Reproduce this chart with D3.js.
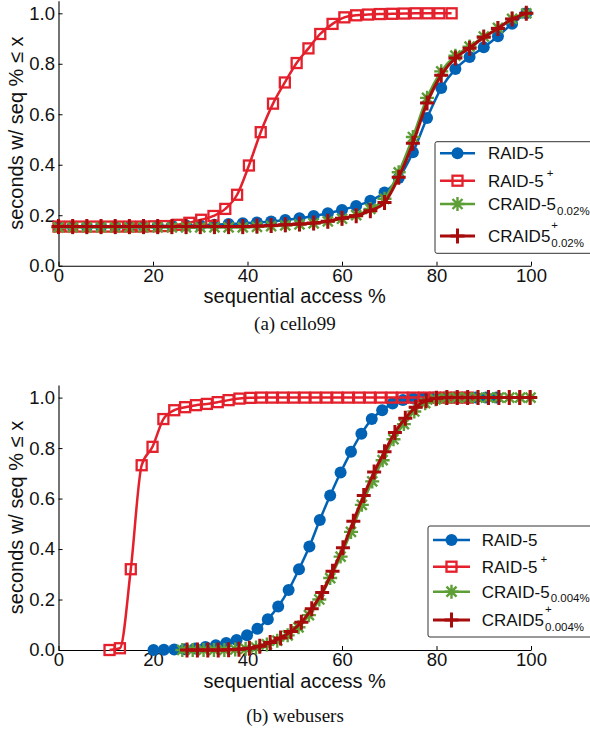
<!DOCTYPE html>
<html>
<head>
<meta charset="utf-8">
<script src="https://cdn.jsdelivr.net/npm/d3@7"></script>
<style>
  body { margin: 0; background: #fff; }
  svg { display: block; }
</style>
</head>
<body>
<svg id="chart" width="590" height="731"></svg>
<script>
// ---- data -------------------------------------------------------------

const X_TICKS = [0, 20, 40, 60, 80, 100];
const Y_TICKS = [0, 0.2, 0.4, 0.6, 0.8, 1.0];

const LEGEND_BASE = ['RAID-5', 'RAID-5', 'CRAID-5', 'CRAID5'];
const LEGEND_SUP = ['', '+', '', '+'];
const CELLO_SUB = ['', '', '0.02%', '0.02%'];
const WEB_SUB = ['', '', '0.004%', '0.004%'];

// (a) cello99
const celloX = [0, 3, 6, 9, 12, 15, 18, 21, 24, 27, 30, 33, 36, 39, 42, 45, 48,
  51, 54, 57, 60, 63, 66, 69, 72, 75, 78, 81, 84, 87, 90, 93, 96, 99];
const celloRaid5 = [0.155, 0.155, 0.155, 0.155, 0.155, 0.155, 0.156, 0.157, 0.158,
  0.159, 0.160, 0.162, 0.165, 0.168, 0.171, 0.175, 0.181, 0.188, 0.197, 0.208,
  0.221, 0.237, 0.257, 0.290, 0.347, 0.449, 0.585, 0.704, 0.779, 0.827, 0.865,
  0.909, 0.959, 1.0];
const celloSquareX = [0, 2.5, 5.0, 7.6, 10.1, 12.6, 15.1, 17.6, 20.2, 22.7, 25.2,
  27.7, 30.2, 32.8, 35.3, 37.8, 40.3, 42.8, 45.4, 47.9, 50.4, 52.9, 55.4, 58.0,
  60.5, 63.0, 65.5, 68.0, 70.6, 73.1, 75.6, 78.1, 80.6, 83.2];
const celloRaid5Plus = [0.155, 0.155, 0.155, 0.155, 0.155, 0.155, 0.155, 0.155,
  0.156, 0.157, 0.162, 0.170, 0.182, 0.197, 0.225, 0.281, 0.397, 0.529, 0.642,
  0.726, 0.803, 0.861, 0.918, 0.958, 0.984, 0.992, 0.995, 0.997, 0.998, 0.999,
  1.0, 1.0, 1.0, 1.0];
const celloCraid5 = [0.152, 0.152, 0.152, 0.152, 0.152, 0.152, 0.152, 0.152,
  0.152, 0.152, 0.152, 0.152, 0.152, 0.152, 0.154, 0.157, 0.160, 0.164, 0.168,
  0.176, 0.186, 0.200, 0.225, 0.265, 0.370, 0.510, 0.665, 0.770, 0.832, 0.868,
  0.908, 0.942, 0.978, 1.0];
const celloCraid5Plus = [0.155, 0.155, 0.155, 0.155, 0.155, 0.155, 0.155, 0.155,
  0.155, 0.155, 0.155, 0.155, 0.155, 0.155, 0.157, 0.159, 0.162, 0.165, 0.169,
  0.176, 0.188, 0.198, 0.218, 0.250, 0.350, 0.485, 0.645, 0.755, 0.823, 0.862,
  0.905, 0.940, 0.977, 1.0];

// (b) webusers
const webRaid5X = [20.1, 22.3, 24.5, 26.7, 28.9, 31.1, 33.3, 35.5, 37.7, 39.9, 42.1,
  44.3, 46.5, 48.7, 50.9, 53.1, 55.3, 57.5, 59.7, 61.9, 64.1, 66.3, 68.5, 70.7,
  72.9, 75.1, 77.3, 79.5, 81.7, 83.9, 86.1, 88.3, 90.5, 92.7];
const webRaid5 = [0.0, 0.001, 0.002, 0.003, 0.006, 0.012, 0.019, 0.028, 0.040,
  0.058, 0.084, 0.122, 0.172, 0.238, 0.320, 0.410, 0.515, 0.612, 0.703, 0.785,
  0.857, 0.915, 0.950, 0.977, 0.990, 0.996, 0.999, 1.0, 1.0, 1.0, 1.0, 1.0, 1.0, 1.0];
const webRaid5PlusX = [10.8, 13.0, 15.3, 17.6, 19.9, 22.2, 24.5, 26.8, 29.1, 31.4,
  33.7, 36.0, 38.3, 40.6, 42.9, 45.2, 47.5, 49.8, 52.1, 54.4, 56.7, 59.0, 61.3,
  63.6, 65.9, 68.2, 70.5, 72.8, 75.1, 77.4, 79.7, 82.0, 84.3, 86.6];
const webRaid5Plus = [0.0, 0.007, 0.320, 0.732, 0.805, 0.915, 0.950, 0.962, 0.970,
  0.975, 0.982, 0.990, 0.996, 0.999, 1.0, 1.0, 1.0, 1.0, 1.0, 1.0, 1.0, 1.0, 1.0,
  1.0, 1.0, 1.0, 1.0, 1.0, 1.0, 1.0, 1.0, 1.0, 1.0, 1.0];
const webCraid5X = [26.2, 28.4, 30.7, 32.9, 35.1, 37.4, 39.6, 41.8, 44.1, 46.3, 48.5,
  50.8, 53.0, 55.2, 57.5, 59.7, 61.9, 64.2, 66.4, 68.6, 70.9, 73.1, 75.3, 77.6,
  79.8, 82.0, 84.3, 86.5, 88.7, 91.0, 93.2, 95.4, 97.7, 99.9];
const webCraid5 = [0.0, 0.0, 0.0, 0.0, 0.0, 0.002, 0.005, 0.010, 0.022, 0.037,
  0.058, 0.090, 0.138, 0.200, 0.285, 0.370, 0.468, 0.575, 0.668, 0.752, 0.835,
  0.895, 0.945, 0.978, 0.993, 0.998, 1.0, 1.0, 1.0, 1.0, 1.0, 1.0, 1.0, 1.0];
const webCraid5PlusX = [27.2, 29.4, 31.6, 33.8, 36.0, 38.2, 40.4, 42.6, 44.8, 47.0,
  49.2, 51.4, 53.6, 55.8, 58.0, 60.2, 62.4, 64.6, 66.8, 69.0, 71.2, 73.4, 75.6,
  77.8, 80.0, 82.2, 84.4, 86.6, 88.8, 91.0, 93.2, 95.4, 97.6, 99.8];
const webCraid5Plus = [0.0, 0.0, 0.0, 0.0, 0.001, 0.003, 0.007, 0.015, 0.030,
  0.048, 0.073, 0.110, 0.163, 0.228, 0.312, 0.405, 0.510, 0.612, 0.705, 0.785,
  0.862, 0.918, 0.962, 0.988, 0.997, 1.0, 1.0, 1.0, 1.0, 1.0, 1.0, 1.0, 1.0, 1.0];

// ---- style ------------------------------------------------------------

const COLORS = ['#0062b4', '#e3202b', '#5d9f36', '#a70b0b'];
const MARKERS = ['circle', 'square', 'asterisk', 'plus'];
const LINE_WIDTHS = [2.5, 2.5, 2.5, 3];
const SANS = '"Liberation Sans", Arial, Helvetica, sans-serif';
const SERIF = '"Liberation Serif", "Times New Roman", serif';

const X_RANGE = [58.5, 531];
const PX_PER_UNIT = 252.4;

const PANELS = [
  {
    bottom: 265.7,
    caption: '(a) cello99',
    captionY: 330,
    series: [
      [celloX, celloRaid5],
      [celloSquareX, celloRaid5Plus],
      [celloX, celloCraid5],
      [celloX, celloCraid5Plus]
    ],
    sub: CELLO_SUB,
    legend: {x: 435, y: 141.7, h: 111.6, rows: [153.3, 180.7, 204, 236], line: [440, 475], textX: 488}
  },
  {
    bottom: 650,
    caption: '(b) webusers',
    captionY: 722,
    series: [
      [webRaid5X, webRaid5],
      [webRaid5PlusX, webRaid5Plus],
      [webCraid5X, webCraid5],
      [webCraid5PlusX, webCraid5Plus]
    ],
    sub: WEB_SUB,
    legend: {x: 428, y: 526, h: 111, rows: [540, 566.7, 591.7, 620], line: [433, 470], textX: 481.7}
  }
];

// ---- drawing ----------------------------------------------------------

function drawMarker(sel, kind, color) {
  switch (kind) {
    case 'circle':
      sel.append('circle').attr('r', 6).attr('fill', color);
      break;
    case 'square':
      sel.append('rect')
        .attr('x', -5).attr('y', -5).attr('width', 10).attr('height', 10)
        .attr('fill', 'none').attr('stroke', color).attr('stroke-width', 2.3);
      break;
    case 'asterisk':
      sel.append('path')
        .attr('d', 'M-7,0H7M0,-7V7M-5,-5L5,5M-5,5L5,-5')
        .attr('fill', 'none').attr('stroke', color).attr('stroke-width', 2.4);
      break;
    default:
      sel.append('path')
        .attr('d', 'M-7,0H7M0,-7.5V7.5')
        .attr('fill', 'none').attr('stroke', color).attr('stroke-width', 3);
  }
}

function styleAxis(g) {
  g.select('.domain').attr('stroke', '#000').attr('stroke-width', 1.1);
  g.selectAll('.tick line').attr('stroke', '#000').attr('stroke-width', 1);
  g.selectAll('.tick text')
    .attr('fill', '#111')
    .style('font-family', SANS)
    .style('font-size', '18.5px');
}

function drawPanel(svg, panel) {
  const x = d3.scaleLinear().domain([0, 100]).range(X_RANGE);
  const y = d3.scaleLinear()
    .domain([0, 1.05])
    .range([panel.bottom, panel.bottom - 1.05 * PX_PER_UNIT]);

  const g = svg.append('g');

  // axes (ticks point inward, no top/right box)
  g.append('g')
    .attr('transform', `translate(0,${panel.bottom})`)
    .call(d3.axisBottom(x).tickValues(X_TICKS).tickSize(-4).tickSizeOuter(0).tickPadding(3))
    .call(styleAxis);

  g.append('g')
    .attr('transform', `translate(${X_RANGE[0]},0)`)
    .call(d3.axisLeft(y).tickValues(Y_TICKS).tickFormat(d3.format('.1f'))
      .tickSize(-4).tickSizeOuter(0).tickPadding(3.5))
    .call(styleAxis);

  // axis labels
  g.append('text')
    .attr('x', (X_RANGE[0] + X_RANGE[1]) / 2)
    .attr('y', panel.bottom + 37.5)
    .attr('text-anchor', 'middle')
    .style('font-family', SANS).style('font-size', '20px').attr('fill', '#111')
    .text('sequential access %');

  g.append('text')
    .attr('transform', `translate(22.5,${panel.bottom - 0.525 * PX_PER_UNIT}) rotate(-90)`)
    .attr('text-anchor', 'middle')
    .style('font-family', SANS).style('font-size', '20px').attr('fill', '#111')
    .text('seconds w/ seq % \u2264 x');

  // series
  const line = d3.line()
    .curve(d3.curveMonotoneX)
    .x((d) => x(d[0]))
    .y((d) => y(d[1]));

  panel.series.forEach(([xs, ys], i) => {
    const pts = d3.zip(xs, ys);
    g.append('path')
      .attr('d', line(pts))
      .attr('fill', 'none')
      .attr('stroke', COLORS[i])
      .attr('stroke-width', LINE_WIDTHS[i]);

    g.append('g')
      .selectAll('g')
      .data(pts)
      .join('g')
      .attr('transform', (d) => `translate(${x(d[0])},${y(d[1])})`)
      .each(function () {
        drawMarker(d3.select(this), MARKERS[i], COLORS[i]);
      });
  });

  // legend
  const lg = panel.legend;
  const legend = g.append('g');
  legend.append('rect')
    .attr('x', lg.x).attr('y', lg.y)
    .attr('width', 200).attr('height', lg.h)
    .attr('rx', 2)
    .attr('fill', '#fff').attr('stroke', '#333').attr('stroke-width', 1);

  lg.rows.forEach((rowY, i) => {
    legend.append('line')
      .attr('x1', lg.line[0]).attr('x2', lg.line[1])
      .attr('y1', rowY).attr('y2', rowY)
      .attr('stroke', COLORS[i]).attr('stroke-width', LINE_WIDTHS[i]);
    drawMarker(
      legend.append('g').attr('transform', `translate(${(lg.line[0] + lg.line[1]) / 2},${rowY})`),
      MARKERS[i], COLORS[i]
    );

    const baseY = rowY + 6;
    const t = legend.append('text')
      .attr('x', lg.textX).attr('y', baseY)
      .style('font-family', SANS).style('font-size', '17px').attr('fill', '#111')
      .text(LEGEND_BASE[i]);
    const w = t.node().getComputedTextLength();
    const sub = panel.sub[i];
    const sup = LEGEND_SUP[i];

    if (sup) {
      legend.append('text')
        .attr('x', lg.textX + w + (sub ? 1 : 3))
        .attr('y', baseY - (sub ? 13.5 : 9.5))
        .style('font-family', SANS).style('font-size', '11.5px').attr('fill', '#111')
        .text(sup);
    }
    if (sub) {
      legend.append('text')
        .attr('x', lg.textX + w + 1)
        .attr('y', baseY + 4.5)
        .style('font-family', SANS).style('font-size', '11.5px').attr('fill', '#111')
        .text(sub);
    }
  });

  // caption
  svg.append('text')
    .attr('x', 295).attr('y', panel.captionY)
    .attr('text-anchor', 'middle')
    .style('font-family', SERIF).style('font-size', '19px').attr('fill', '#111')
    .text(panel.caption);
}

const svg = d3.select('#chart');
PANELS.forEach((panel) => drawPanel(svg, panel));
</script>
</body>
</html>
